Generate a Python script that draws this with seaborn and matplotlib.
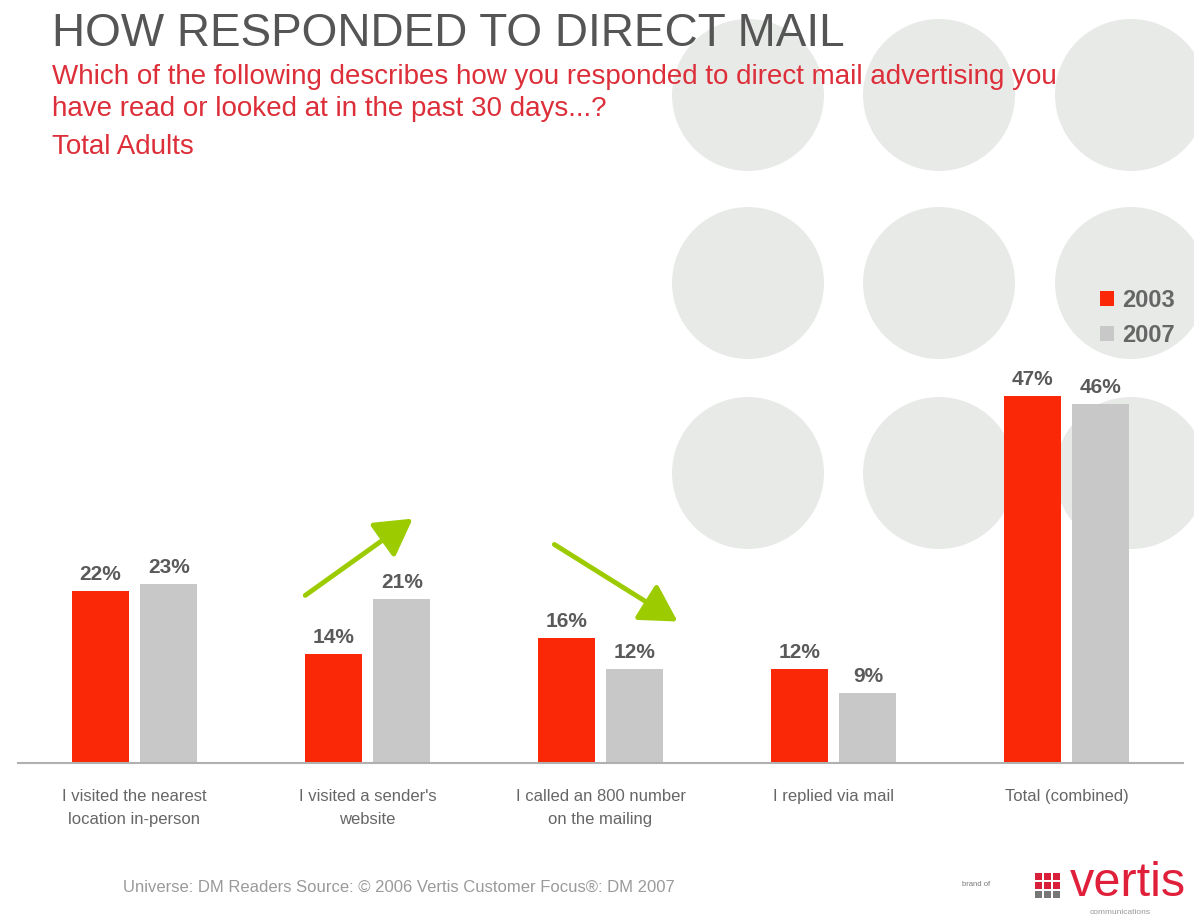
import matplotlib
matplotlib.use("Agg")
import matplotlib.pyplot as plt
from matplotlib.patches import Circle, FancyArrowPatch, Rectangle
import seaborn as sns
import pandas as pd

# ---- data ----
categories = [
    "I visited the nearest\nlocation in-person",
    "I visited a sender's\nwebsite",
    "I called an 800 number\non the mailing",
    "I replied via mail",
    "Total (combined)",
]
years = ["2003", "2007"]
values_2003 = [22, 14, 16, 12, 47]
values_2007 = [23, 21, 12, 9, 46]

title = "HOW RESPONDED TO DIRECT MAIL"
subtitle_lines = [
    "Which of the following describes how you responded to direct mail advertising you",
    "have read or looked at in the past 30 days...?",
]
subtitle_2 = "Total Adults"
footer = "Universe: DM Readers Source: \u00a9 2006 Vertis Customer Focus\u00ae: DM 2007"

df = pd.DataFrame({
    "Category": categories * 2,
    "Year": [years[0]] * len(categories) + [years[1]] * len(categories),
    "Value": values_2003 + values_2007,
})

RED = "#fa2806"
GRAY = "#c8c8c8"
palette = {years[0]: RED, years[1]: GRAY}

sns.set_theme(style="white")
plt.rcParams["font.family"] = ["Liberation Sans", "DejaVu Sans"]

W, H = 1194, 919
fig = plt.figure(figsize=(W / 100, H / 100), dpi=100)
fig.patch.set_facecolor("white")

# background decoration axes in pixel coordinates
bg = fig.add_axes([0, 0, 1, 1], zorder=0)
bg.set_xlim(0, W)
bg.set_ylim(H, 0)
bg.axis("off")
for cx in (748, 939, 1131):
    for cy in (95, 283, 473):
        bg.add_patch(Circle((cx, cy), 76, facecolor="#e8eae8", edgecolor="none"))

# green trend arrows
for (x0, y0), (x1, y1) in [((303, 597), (415, 517)), ((552, 543), (680, 623))]:
    bg.add_patch(FancyArrowPatch((x0, y0), (x1, y1), arrowstyle="-|>,head_length=14,head_width=8",
                                 mutation_scale=1.6, color="#9ccc00", linewidth=3.5))

# main axes
left_px, right_px, base_px = 18, 1183, 763
per_pct = 7.8
ymax = 50
top_px = base_px - ymax * per_pct
ax = fig.add_axes([left_px / W, 1 - base_px / H, (right_px - left_px) / W, (base_px - top_px) / H], zorder=1)
ax.patch.set_alpha(0)

sns.barplot(data=df, x="Category", y="Value", hue="Year", palette=palette, order=categories,
            hue_order=years, width=0.59, gap=0.17, saturation=1, ax=ax, legend=True,
            linewidth=0)

ax.set_ylim(0, ymax)
ax.set_xlim(-0.5, 4.5)
for c in ax.containers:
    ax.bar_label(c, labels=[f"{v:.0f}%" for v in c.datavalues], padding=5, fontsize=15,
                 fontweight="bold", color="#5a5a5a")

for s in ("left", "top", "right"):
    ax.spines[s].set_visible(False)
ax.spines["bottom"].set_color("#b0b0b0")
ax.spines["bottom"].set_linewidth(1.5)
ax.set_yticks([])
ax.set_xlabel("")
ax.set_ylabel("")
ax.set_xticks(range(len(categories)))
ax.set_xticklabels(categories, linespacing=1.6)
ax.tick_params(axis="x", which="major", length=0, pad=19, labelsize=12, labelcolor="#666666")
ax.set_xticks([i - 0.5 for i in range(len(categories) + 1)], minor=True)
ax.tick_params(axis="x", which="minor", length=6, width=1, color="#cccccc", direction="out")

handles, labels = ax.get_legend_handles_labels()
ax.legend(handles, labels, loc="upper right", bbox_to_anchor=(1196 / W, 1 - 268 / H),
          bbox_transform=fig.transFigure, frameon=False, handlelength=0.6, handleheight=0.6,
          handletextpad=0.35, labelspacing=0.5, prop={"weight": "bold", "size": 17},
          labelcolor="#666666")

# titles
fig.text(52 / W, 1 - 34 / H, title, fontsize=33, color="#555555", va="center", ha="left")
fig.text(52 / W, 1 - 77 / H, subtitle_lines[0], fontsize=20, color="#dc2f3a", va="center", ha="left")
fig.text(52 / W, 1 - 109 / H, subtitle_lines[1], fontsize=20, color="#dc2f3a", va="center", ha="left")
fig.text(52 / W, 1 - 147 / H, subtitle_2, fontsize=20, color="#dc2f3a", va="center", ha="left")

# footer
fig.text(123 / W, 1 - 887 / H, footer, fontsize=12, color="#9a9a9a", va="center", ha="left")
fig.text(962 / W, 1 - 885 / H, "brand of", fontsize=5.5, color="#777777", va="center", ha="left")
for i in range(3):
    for j in range(3):
        col = "#d8203a" if i < 2 else "#777777"
        bg.add_patch(Rectangle((1035 + j * 9, 873 + i * 9), 6.5, 6.5, facecolor=col, edgecolor="none"))
fig.text(1070 / W, 1 - 883 / H, "vertis", fontsize=35, color="#e0203a", va="center", ha="left")
fig.text(1090 / W, 1 - 912 / H, "communications", fontsize=6, color="#999999", va="center", ha="left")

fig.savefig("out.png", dpi=100)
